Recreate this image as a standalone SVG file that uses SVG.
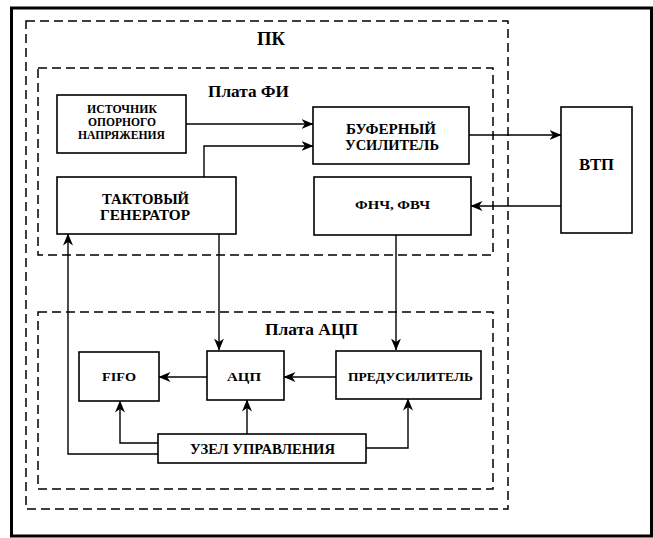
<svg xmlns="http://www.w3.org/2000/svg" width="653" height="538" viewBox="0 0 653 538">
<defs>
<marker id="ah" viewBox="0 0 12 10" refX="11.5" refY="5" markerWidth="12" markerHeight="10" markerUnits="userSpaceOnUse" orient="auto">
<path d="M0,0 L12,5 L0,10 L3.5,5 Z" fill="#000"/>
</marker>
<style>
.box{fill:#fff;stroke:#000;stroke-width:1.6}
.dash{fill:none;stroke:#000;stroke-width:1.5;stroke-dasharray:9 5}
.c{fill:none;stroke:#000;stroke-width:1.4;marker-end:url(#ah)}
text{font-family:'Liberation Serif','Times New Roman','DejaVu Serif',serif;font-weight:700;fill:#000}
</style>
</defs>
<rect x="0" y="0" width="653" height="538" fill="#fff"/>
<rect x="11.5" y="8" width="640" height="528" fill="none" stroke="#000" stroke-width="3"/>
<g id="pk">
<rect class="dash" x="26" y="21" width="482" height="488"/>
<text x="257" y="45" font-size="18" textLength="28" lengthAdjust="spacingAndGlyphs">ПК</text>
</g>
<g id="plata-fi">
<rect class="dash" x="38" y="68" width="455" height="187"/>
<text x="208" y="97" font-size="16" textLength="81" lengthAdjust="spacingAndGlyphs">Плата ФИ</text>
</g>
<g id="plata-acp">
<rect class="dash" x="38" y="312" width="455" height="177"/>
<text x="265" y="335" font-size="16" textLength="93" lengthAdjust="spacingAndGlyphs">Плата АЦП</text>
</g>
<g id="connectors">
<path class="c" d="M186,124 H313"/>
<path class="c" d="M204,177 V146 H313"/>
<path class="c" d="M469,135 H561"/>
<path class="c" d="M561,206 H471"/>
<path class="c" d="M396,235 V350"/>
<path class="c" d="M219,234 V350"/>
<path class="c" d="M207,377 H159"/>
<path class="c" d="M336,377 H284"/>
<path class="c" d="M158,443 H120 V401"/>
<path class="c" d="M247,434 V400"/>
<path class="c" d="M366,448 H408 V399"/>
<path class="c" d="M158,454 H68 V234"/>
</g>
<g id="istochnik">
<rect class="box" x="57" y="95" width="129" height="58"/>
<text x="87" y="113" font-size="11.5" textLength="70" lengthAdjust="spacingAndGlyphs">ИСТОЧНИК</text>
<text x="88" y="126" font-size="11.5" textLength="68" lengthAdjust="spacingAndGlyphs">ОПОРНОГО</text>
<text x="78" y="139" font-size="11.5" textLength="87" lengthAdjust="spacingAndGlyphs">НАПРЯЖЕНИЯ</text>
</g>
<g id="bufer">
<rect class="box" x="313" y="107" width="156" height="57"/>
<text x="346" y="134" font-size="14.5" textLength="90" lengthAdjust="spacingAndGlyphs">БУФЕРНЫЙ</text>
<text x="345" y="150" font-size="14.5" textLength="94" lengthAdjust="spacingAndGlyphs">УСИЛИТЕЛЬ</text>
</g>
<g id="takt">
<rect class="box" x="57" y="177" width="179" height="57"/>
<text x="102" y="204" font-size="15" textLength="87" lengthAdjust="spacingAndGlyphs">ТАКТОВЫЙ</text>
<text x="100" y="220" font-size="15" textLength="90" lengthAdjust="spacingAndGlyphs">ГЕНЕРАТОР</text>
</g>
<g id="fnch">
<rect class="box" x="314" y="177" width="157" height="58"/>
<text x="355" y="209" font-size="13.5" textLength="75" lengthAdjust="spacingAndGlyphs">ФНЧ, ФВЧ</text>
</g>
<g id="vtp">
<rect class="box" x="561" y="107" width="71" height="126"/>
<text x="579" y="170" font-size="16" textLength="35" lengthAdjust="spacingAndGlyphs">ВТП</text>
</g>
<g id="fifo">
<rect class="box" x="79" y="352" width="80" height="49"/>
<text x="102" y="381" font-size="13.5" textLength="34" lengthAdjust="spacingAndGlyphs">FIFO</text>
</g>
<g id="acp">
<rect class="box" x="207" y="351" width="77" height="49"/>
<text x="227" y="381" font-size="13.5" textLength="34" lengthAdjust="spacingAndGlyphs">АЦП</text>
</g>
<g id="predus">
<rect class="box" x="336" y="351" width="145" height="48"/>
<text x="348" y="381" font-size="13.5" textLength="125" lengthAdjust="spacingAndGlyphs">ПРЕДУСИЛИТЕЛЬ</text>
</g>
<g id="uzel">
<rect class="box" x="158" y="434" width="208" height="29"/>
<text x="190" y="454" font-size="14" textLength="145" lengthAdjust="spacingAndGlyphs">УЗЕЛ УПРАВЛЕНИЯ</text>
</g>
</svg>
